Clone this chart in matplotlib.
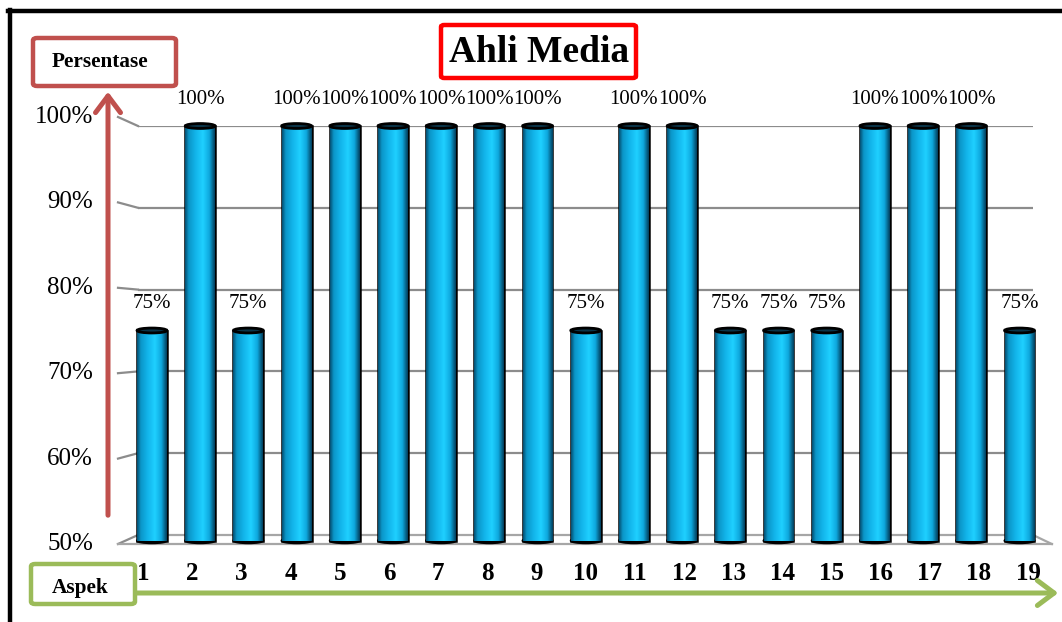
import numpy as np
import matplotlib
matplotlib.use('Agg')
import matplotlib.pyplot as plt
from matplotlib.colors import LinearSegmentedColormap
from matplotlib.patches import Ellipse, FancyBboxPatch, FancyArrowPatch
from matplotlib.lines import Line2D

# data
aspek = list(range(1, 20))
persen = [75, 100, 75, 100, 100, 100, 100, 100, 100, 75,
          100, 100, 75, 75, 75, 100, 100, 100, 75]
y_ticks = [50, 60, 70, 80, 90, 100]
y_labels = ['50%', '60%', '70%', '80%', '90%', '100%']

W, H = 1062, 622
plt.rcParams['font.family'] = ['Liberation Serif', 'DejaVu Serif']

fig = plt.figure(figsize=(W / 100, H / 100), dpi=100)


def fx(x):
    return x / W


def fy(y):
    return 1 - y / H


ax = fig.add_axes([fx(138), fy(535), fx(1033) - fx(138), fy(126) - fy(535)])
ax.set_xlim(0.71, 19.28)
ax.set_ylim(50, 100)
ax.axis('off')

# perspective of the front plane
def front_y(v):
    return v + (v - 75) * 0.044

x_front = 0.295

# gridlines + little diagonal stubs
for v, lab in zip(y_ticks, y_labels):
    if v > 50:
        ax.plot([0.71, 19.28], [v, v], color='#8c8c8c', lw=1.6, zorder=1)
    ax.plot([x_front, 0.71], [front_y(v), v], color='#8c8c8c', lw=1.6,
            zorder=1, clip_on=False)
    ax.text(-0.22, front_y(v), lab, ha='right', va='center', fontsize=18,
            clip_on=False)

# floor
ax.plot([0.71, 19.28], [50, 50], color='#a6a6a6', lw=1.6, zorder=1, clip_on=False)
ax.plot([x_front, 19.67], [front_y(50), front_y(50)], color='#a6a6a6', lw=1.6,
        zorder=1, clip_on=False)
ax.plot([19.28, 19.67], [50, front_y(50)], color='#a6a6a6', lw=1.6,
        zorder=1, clip_on=False)

# cylinder-like bars
cmap = LinearSegmentedColormap.from_list(
    'cyl', [(0, '#045174'), (0.12, '#0b96c8'), (0.35, '#12b4ea'),
            (0.6, '#1fd0ff'), (0.82, '#0ea8de'), (1, '#03405e')])
grad = np.linspace(0, 1, 64).reshape(1, -1)
bw = 0.62
base = 49.3
bars = ax.bar(aspek, [p - base for p in persen], bottom=base, width=bw,
              color='#12b3e8', edgecolor='black', linewidth=1.8, zorder=3,
              clip_on=False)
for b, xi, p in zip(bars, aspek, persen):
    im = ax.imshow(grad, cmap=cmap, aspect='auto', zorder=3.5,
                   extent=[xi - bw / 2, xi + bw / 2, base, p])
    im.set_clip_path(b)
    ax.add_patch(Ellipse((xi, p), bw, 0.6, facecolor='#0a3448',
                         edgecolor='black', lw=2, zorder=4, clip_on=False))
    ax.add_patch(Ellipse((xi, base), bw, 0.6, facecolor='#05425e',
                         edgecolor='black', lw=1.5, zorder=2.9, clip_on=False))
    ax.text(xi, p + 3.3, f'{p}%', ha='center', va='center', fontsize=15,
            zorder=5, clip_on=False)
    ax.text(10 + (xi - 10) * 1.02, 45.3, str(xi), ha='center', va='center',
            fontsize=18, fontweight='bold', clip_on=False)

# outer frame (left and top only visible)
fig.add_artist(Line2D([fx(10), fx(10)], [fy(10), 0], color='black', lw=3.2))
fig.add_artist(Line2D([fx(8), 1], [fy(11), fy(11)], color='black', lw=3.2))

# title box
fig.add_artist(FancyBboxPatch((fx(441), fy(78)), fx(636) - fx(441), fy(25) - fy(78),
                              boxstyle='round,pad=0,rounding_size=0.003',
                              facecolor='white', edgecolor='#ff0000', lw=3.2,
                              transform=fig.transFigure))
fig.text(fx(539), fy(53), 'Ahli Media', ha='center', va='center',
         fontsize=27, fontweight='bold')

# y axis arrow + label box
fig.add_artist(FancyArrowPatch((fx(108), fy(518)), (fx(108), fy(89)),
                               transform=fig.transFigure,
                               arrowstyle='->,head_length=0.6,head_width=0.45',
                               color='#c0504d', lw=3.6, mutation_scale=20))
fig.add_artist(FancyBboxPatch((fx(33), fy(86)), fx(176) - fx(33), fy(38) - fy(86),
                              boxstyle='round,pad=0,rounding_size=0.004',
                              facecolor='white', edgecolor='#c0504d', lw=3.2,
                              transform=fig.transFigure))
fig.text(fx(100), fy(62), 'Persentase', ha='center', va='center',
         fontsize=15.3, fontweight='bold')

# x axis arrow + label box
fig.add_artist(FancyArrowPatch((fx(133), fy(593)), (fx(1061), fy(593)),
                               transform=fig.transFigure,
                               arrowstyle='->,head_length=0.6,head_width=0.45',
                               color='#9bbb59', lw=3.6, mutation_scale=20))
fig.add_artist(FancyBboxPatch((fx(31), fy(604)), fx(135) - fx(31), fy(564) - fy(604),
                              boxstyle='round,pad=0,rounding_size=0.004',
                              facecolor='white', edgecolor='#9bbb59', lw=3.2,
                              transform=fig.transFigure))
fig.text(fx(80), fy(588), 'Aspek', ha='center', va='center',
         fontsize=15.3, fontweight='bold')

fig.savefig('out.png', dpi=100)
